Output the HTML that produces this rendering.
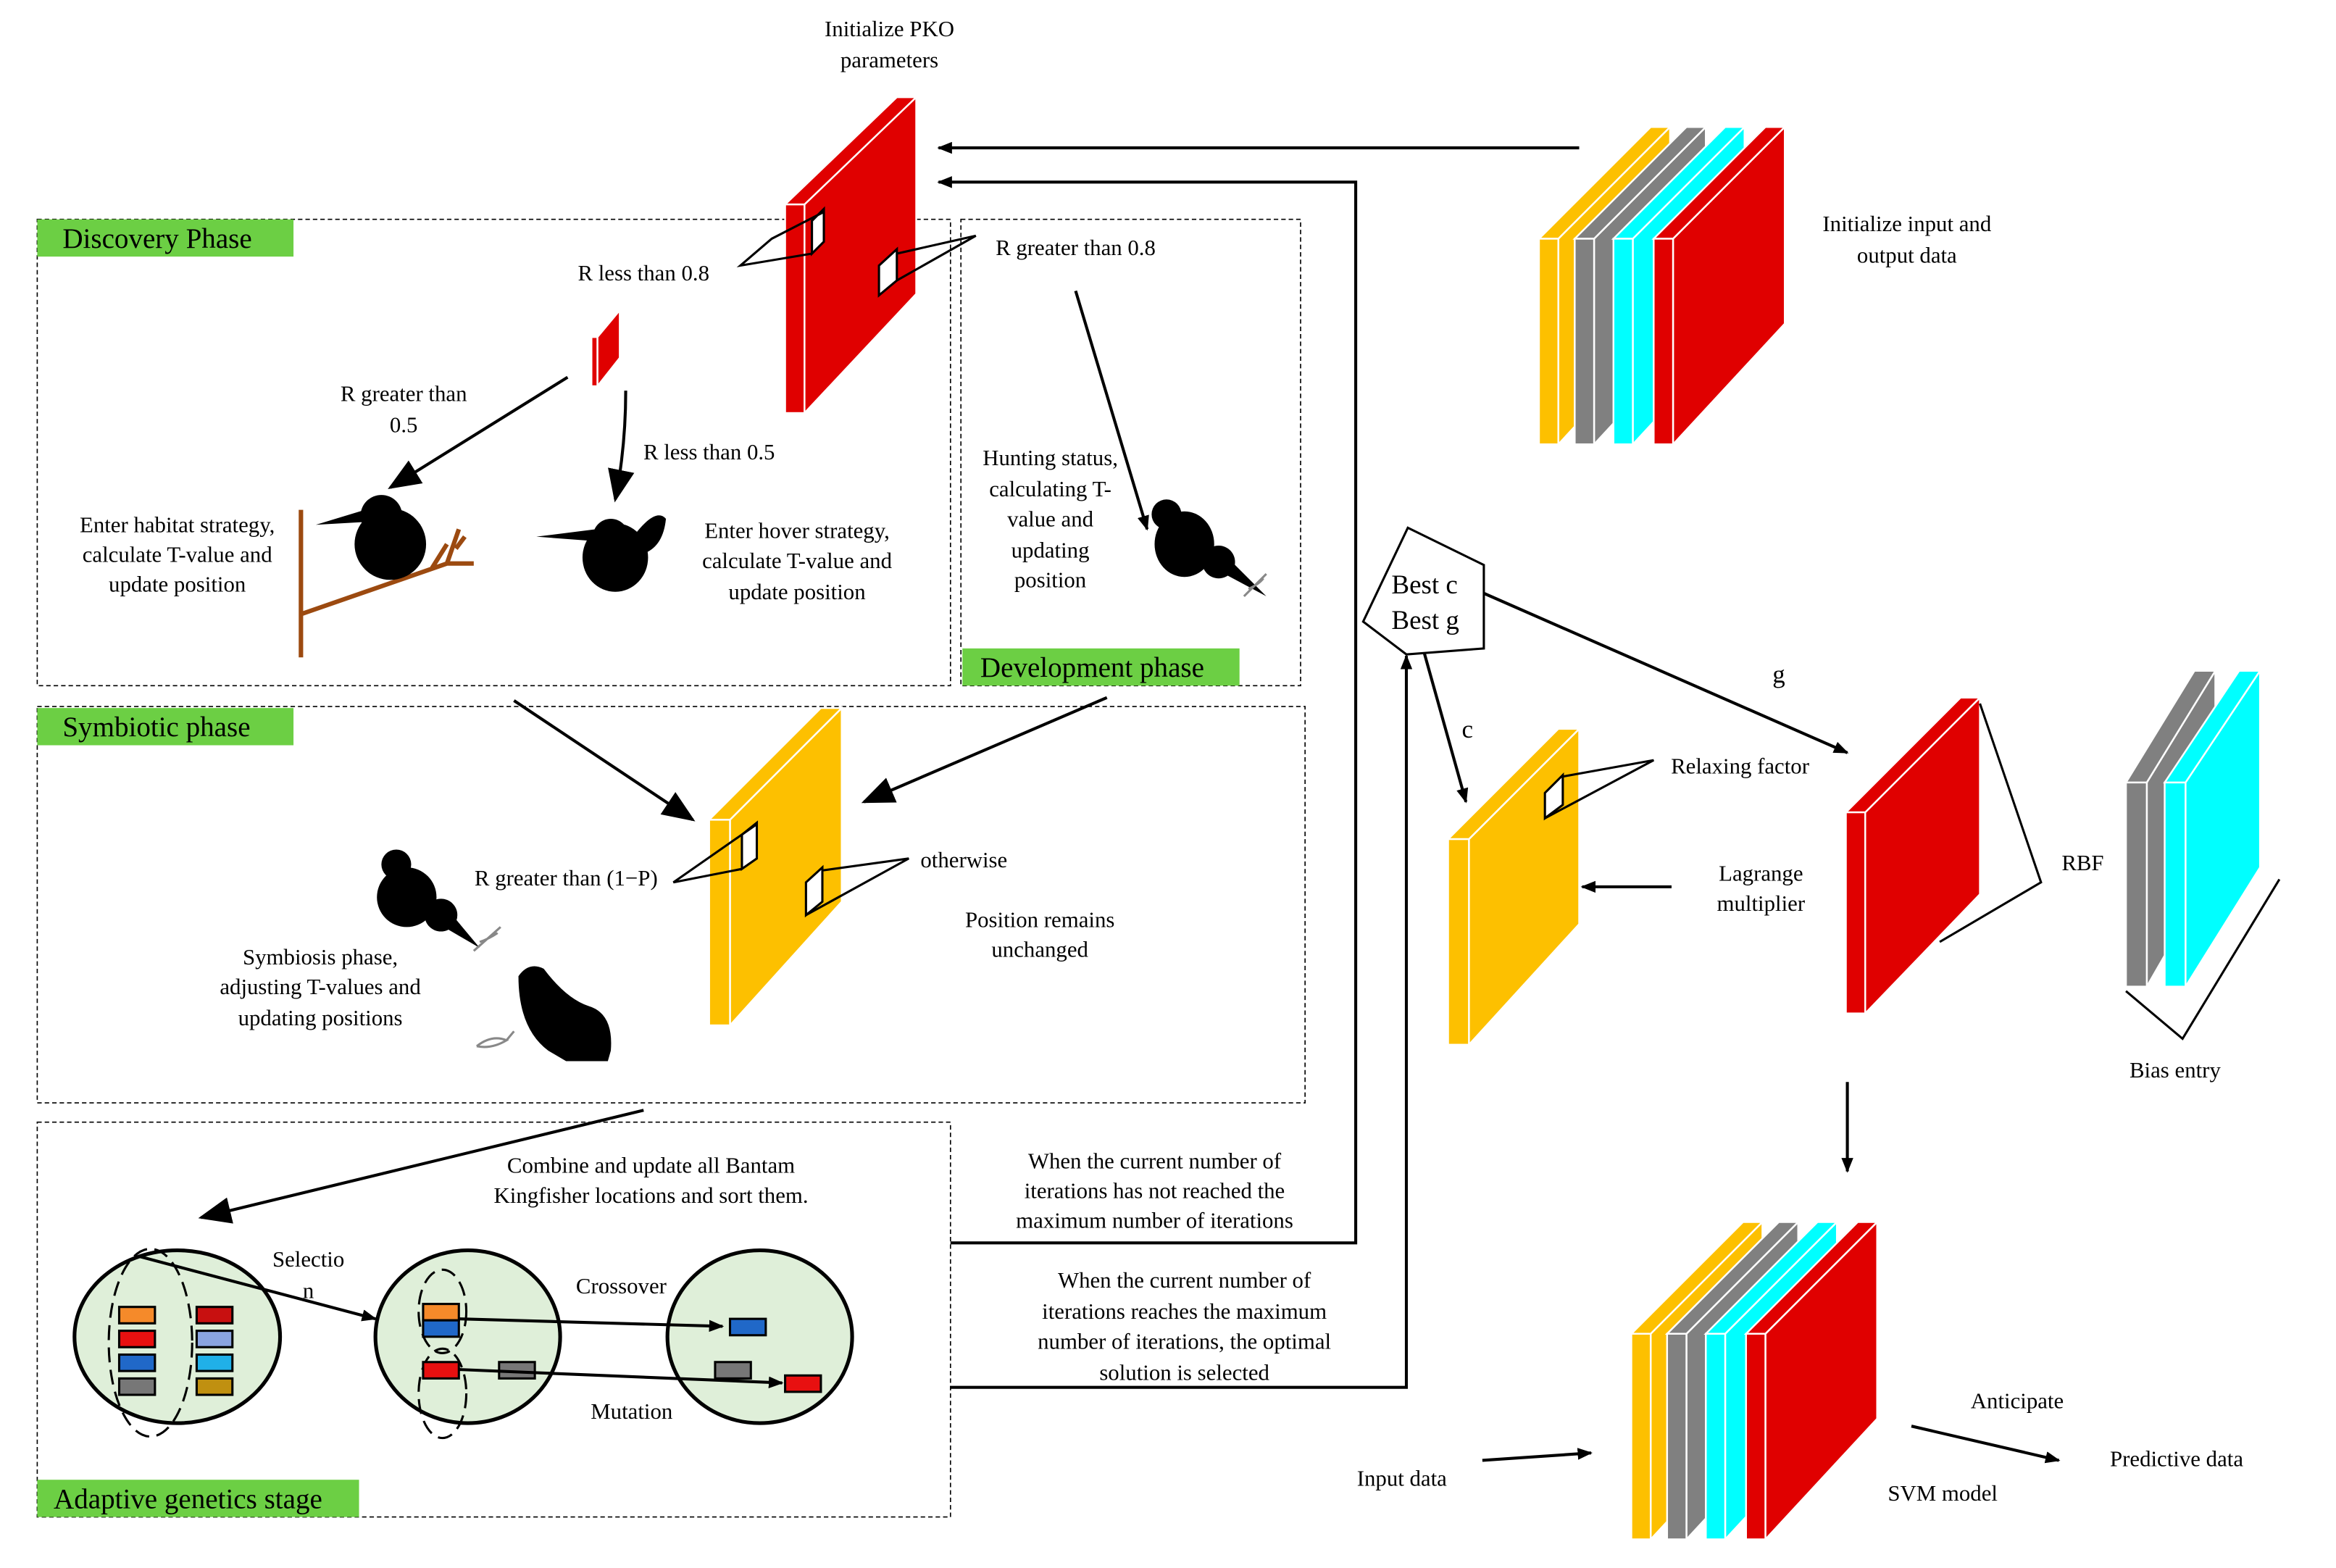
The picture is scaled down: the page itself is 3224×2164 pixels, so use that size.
<!DOCTYPE html>
<html><head><meta charset="utf-8"><style>html,body{margin:0;padding:0;background:#fff}svg{display:block}text{font-family:"Liberation Serif",serif;font-size:15px;fill:#000}text.big{font-size:19px}</style></head><body>
<svg width="3224" height="2164" viewBox="0 0 1568 1052" xmlns="http://www.w3.org/2000/svg">
<defs>
<marker id="a" markerWidth="10" markerHeight="8" refX="9" refY="4" orient="auto" markerUnits="userSpaceOnUse" viewBox="0 0 10 8"><path d="M0,0L10,4L0,8z" fill="#000"/></marker>
<marker id="b" markerWidth="22" markerHeight="18" refX="20" refY="9" orient="auto" markerUnits="userSpaceOnUse" viewBox="0 0 22 18"><path d="M0,0L22,9L0,18z" fill="#000"/></marker>
</defs>
<g fill="none" stroke="#000" stroke-width="0.8" stroke-dasharray="3,2">
<rect x="25" y="147" width="613" height="313"/>
<rect x="645" y="147" width="228" height="313"/>
<rect x="25" y="474" width="851" height="266"/>
<rect x="25" y="753" width="613" height="265"/>
</g>
<g fill="#6ccf44">
<rect x="25" y="147" width="172" height="25"/>
<rect x="25" y="475" width="172" height="25"/>
<rect x="646" y="435" width="186" height="25"/>
<rect x="25" y="993" width="216" height="25"/>
</g>
<text class="big" x="42" y="166">Discovery Phase</text>
<text class="big" x="42" y="494">Symbiotic phase</text>
<text class="big" x="658" y="454">Development phase</text>
<text class="big" x="36" y="1012">Adaptive genetics stage</text>
<g stroke="#fff" stroke-width="1.2">
<polygon points="540,137 615,65 615,197 540,277" fill="#e00000"/>
<polygon points="527,137 602,65 615,65 540,137" fill="#e00000"/>
<rect x="527" y="137" width="13" height="140" fill="#e00000"/>
<polygon points="401,226 416,208 416,240 401,259" fill="#e00000"/>
<rect x="397" y="226" width="4" height="33" fill="#e00000"/>
<polygon points="490,550 565,475 565,605 490,688" fill="#fdc000"/>
<polygon points="476,550 551,475 565,475 490,550" fill="#fdc000"/>
<rect x="476" y="550" width="14" height="138" fill="#fdc000"/>
<polygon points="986,563 1060,489 1060,620 986,701" fill="#fdc000"/>
<polygon points="972,563 1046,489 1060,489 986,563" fill="#fdc000"/>
<rect x="972" y="563" width="14" height="138" fill="#fdc000"/>
<polygon points="1252,545 1329,468 1329,600 1252,680" fill="#e00000"/>
<polygon points="1239,545 1316,468 1329,468 1252,545" fill="#e00000"/>
<rect x="1239" y="545" width="13" height="135" fill="#e00000"/>
<polygon points="1441,525 1487,450 1487,582 1441,662" fill="#808080"/>
<polygon points="1427,525 1473,450 1487,450 1441,525" fill="#808080"/>
<rect x="1427" y="525" width="14" height="137" fill="#808080"/>
<polygon points="1467,525 1517,450 1517,582 1467,662" fill="#00ffff"/>
<polygon points="1453,525 1503,450 1517,450 1467,525" fill="#00ffff"/>
<rect x="1453" y="525" width="14" height="137" fill="#00ffff"/>
</g>
<g stroke="#fff" stroke-width="1.2">
<g id="st">
<polygon points="1046,160 1121,85 1121,217 1046,298" fill="#fdc000"/><polygon points="1033,160 1108,85 1121,85 1046,160" fill="#fdc000"/><rect x="1033" y="160" width="13" height="138" fill="#fdc000"/>
<polygon points="1070,160 1145,85 1145,217 1070,298" fill="#808080"/><polygon points="1057,160 1132,85 1145,85 1070,160" fill="#808080"/><rect x="1057" y="160" width="13" height="138" fill="#808080"/>
<polygon points="1096,160 1171,85 1171,217 1096,298" fill="#00ffff"/><polygon points="1083,160 1158,85 1171,85 1096,160" fill="#00ffff"/><rect x="1083" y="160" width="13" height="138" fill="#00ffff"/>
<polygon points="1123,160 1198,85 1198,217 1123,298" fill="#e00000"/><polygon points="1110,160 1185,85 1198,85 1123,160" fill="#e00000"/><rect x="1110" y="160" width="13" height="138" fill="#e00000"/>
</g>
<use href="#st" transform="translate(62,735)"/>
</g>
<g fill="#fff" stroke="#000" stroke-width="1.5">
<polygon points="545,148 553,140 553,162 545,170"/>
<polyline fill="none" points="553,142 518,160 497,178 545,170"/>
<polygon points="590,178 602,167 602,188 590,198"/>
<polyline fill="none" points="602,170 655,158 602,188"/>
<polygon points="498,560 508,552 508,576 498,583"/>
<polyline fill="none" points="508,553 452,592 498,583"/>
<polygon points="541,592 552,582 552,605 541,614"/>
<polyline fill="none" points="552,584 610,576 541,614"/>
<polygon points="1037,532 1049,520 1049,540 1037,549"/>
<polyline fill="none" points="1049,521 1110,510 1037,549"/>
</g>
<polyline fill="none" stroke="#000" stroke-width="1.5" points="1329,472 1370,592 1302,632"/>
<polyline fill="none" stroke="#000" stroke-width="1.5" points="1427,665 1465,697 1530,590"/>
<polygon points="945,354 996,379 996,435 944,439 915,417" fill="#fff" stroke="#000" stroke-width="1.5"/>
<text x="934" y="398" style="font-size:18px">Best c</text>
<text x="934" y="422" style="font-size:18px">Best g</text>
<g stroke="#000" stroke-width="2" fill="none">
<line x1="1060" y1="99" x2="630" y2="99" marker-end="url(#a)"/>
<polyline points="638,834 910,834 910,122 630,122" marker-end="url(#a)"/>
<polyline points="638,931 944,931 944,440" marker-end="url(#a)"/>
<path d="M381,253 Q330,285 262,327" marker-end="url(#b)"/>
<path d="M420,262 Q420,300 413,335" marker-end="url(#b)"/>
<path d="M722,195 L770,355" marker-end="url(#a)"/>
<line x1="345" y1="470" x2="465" y2="550" marker-end="url(#b)"/>
<line x1="743" y1="468" x2="580" y2="538" marker-end="url(#b)"/>
<line x1="432" y1="745" x2="135" y2="817" marker-end="url(#b)"/>
<line x1="956" y1="438" x2="984" y2="538" marker-end="url(#a)"/>
<line x1="996" y1="398" x2="1240" y2="505" marker-end="url(#a)"/>
<line x1="1122" y1="595" x2="1062" y2="595" marker-end="url(#a)"/>
<line x1="1240" y1="726" x2="1240" y2="786" marker-end="url(#a)"/>
<line x1="995" y1="980" x2="1068" y2="975" marker-end="url(#a)"/>
<line x1="1283" y1="957" x2="1382" y2="980" marker-end="url(#a)"/>
</g>
<g stroke="#9c4a10" stroke-width="3" fill="none">
<line x1="202" y1="342" x2="202" y2="441"/>
<path d="M202,412 L300,378 L318,378 M300,378 L308,355 M306,368 L312,360 M290,381 L300,365"/>
</g>
<g fill="#000">
<ellipse cx="262" cy="365" rx="24" ry="24"/><circle cx="256" cy="346" r="14"/><polygon points="212,352 245,342 247,350"/>
<ellipse cx="413" cy="374" rx="22" ry="23"/><circle cx="410" cy="360" r="12"/><polygon points="360,360 400,355 400,363"/><path d="M425,360 Q440,340 447,348 Q445,368 430,372z"/>
<ellipse cx="795" cy="365" rx="20" ry="22"/><circle cx="783" cy="345" r="10"/><circle cx="818" cy="377" r="11"/><polygon points="825,375 850,400 822,385"/>
<ellipse cx="273" cy="602" rx="20" ry="20"/><circle cx="266" cy="580" r="10"/><circle cx="296" cy="614" r="11"/><polygon points="302,612 322,636 298,622"/>
<path d="M348,655 Q355,645 365,650 Q380,670 395,675 Q412,680 410,705 L408,712 L380,712 L368,705 Q348,690 348,655z"/>
</g>
<g fill="none" stroke="#888" stroke-width="1.5">
<path d="M835,400 L850,385 M838,395 Q845,392 848,388"/>
<path d="M318,638 L336,622 M322,632 Q328,630 334,626"/>
<path d="M320,702 Q330,694 340,698 Q330,704 320,702 M340,698 L345,692"/>
</g>
<g fill="#dfefd9" stroke="#000" stroke-width="2.5">
<ellipse cx="119" cy="897" rx="69" ry="58"/>
<ellipse cx="314" cy="897" rx="62" ry="58"/>
<ellipse cx="510" cy="897" rx="62" ry="58"/>
</g>
<g fill="none" stroke="#000" stroke-width="1.5" stroke-dasharray="10,5">
<ellipse cx="101" cy="901" rx="28" ry="63"/>
<ellipse cx="297" cy="880" rx="16" ry="28"/>
<ellipse cx="297" cy="935" rx="16" ry="30"/>
</g>
<g stroke="#000" stroke-width="1.5">
<rect x="80" y="877" width="24" height="11" fill="#f58a2a"/>
<rect x="80" y="893" width="24" height="11" fill="#e81010"/>
<rect x="80" y="909" width="24" height="11" fill="#2068c8"/>
<rect x="80" y="925" width="24" height="11" fill="#777"/>
<rect x="132" y="877" width="24" height="11" fill="#c81010"/>
<rect x="132" y="893" width="24" height="11" fill="#8aa4e0"/>
<rect x="132" y="909" width="24" height="11" fill="#20b0e8"/>
<rect x="132" y="925" width="24" height="11" fill="#c09010"/>
<rect x="284" y="875" width="24" height="11" fill="#f58a2a"/>
<rect x="284" y="886" width="24" height="11" fill="#2068c8"/>
<rect x="284" y="914" width="24" height="11" fill="#e81010"/>
<rect x="335" y="914" width="24" height="11" fill="#777"/>
<rect x="490" y="885" width="24" height="11" fill="#2068c8"/>
<rect x="480" y="914" width="24" height="11" fill="#777"/>
<rect x="527" y="923" width="24" height="11" fill="#e81010"/>
</g>
<g stroke="#000" stroke-width="2" fill="none">
<line x1="93" y1="843" x2="252" y2="885" marker-end="url(#a)"/>
<line x1="308" y1="885" x2="485" y2="890" marker-end="url(#a)"/>
<line x1="308" y1="919" x2="525" y2="928" marker-end="url(#a)"/>
</g>
<g text-anchor="middle">
<text x="597" y="24">Initialize PKO</text><text x="597" y="45">parameters</text>
<text x="432" y="188">R less than 0.8</text>
<text x="722" y="171">R greater than 0.8</text>
<text x="271" y="269">R greater than</text><text x="271" y="290">0.5</text>
<text x="476" y="308">R less than 0.5</text>
<text x="119" y="357">Enter habitat strategy,</text><text x="119" y="377">calculate T-value and</text><text x="119" y="397">update position</text>
<text x="535" y="361">Enter hover strategy,</text><text x="535" y="381">calculate T-value and</text><text x="535" y="402">update position</text>
<text x="705" y="312">Hunting status,</text><text x="705" y="333">calculating T-</text><text x="705" y="353">value and</text><text x="705" y="374">updating</text><text x="705" y="394">position</text>
<text x="1280" y="155">Initialize input and</text><text x="1280" y="176">output data</text>
<text x="380" y="594">R greater than (1−P)</text>
<text x="647" y="582">otherwise</text>
<text x="698" y="622">Position remains</text><text x="698" y="642">unchanged</text>
<text x="215" y="647">Symbiosis phase,</text><text x="215" y="667">adjusting T-values and</text><text x="215" y="688">updating positions</text>
<text x="437" y="787">Combine and update all Bantam</text><text x="437" y="807">Kingfisher locations and sort them.</text>
<text x="207" y="850">Selectio</text><text x="207" y="871">n</text>
<text x="417" y="868">Crossover</text>
<text x="424" y="952">Mutation</text>
<text x="775" y="784">When the current number of</text><text x="775" y="804">iterations has not reached the</text><text x="775" y="824">maximum number of iterations</text>
<text x="795" y="864">When the current number of</text><text x="795" y="885">iterations reaches the maximum</text><text x="795" y="905">number of iterations, the optimal</text><text x="795" y="926">solution is selected</text>
<text x="985" y="495" style="font-size:17px">c</text>
<text x="1194" y="458" style="font-size:17px">g</text>
<text x="1168" y="519">Relaxing factor</text>
<text x="1182" y="591">Lagrange</text><text x="1182" y="611">multiplier</text>
<text x="1398" y="584">RBF</text>
<text x="1460" y="723">Bias entry</text>
<text x="941" y="997">Input data</text>
<text x="1354" y="945">Anticipate</text>
<text x="1461" y="984">Predictive data</text>
<text x="1304" y="1007">SVM model</text>
</g>
</svg>
</body></html>
